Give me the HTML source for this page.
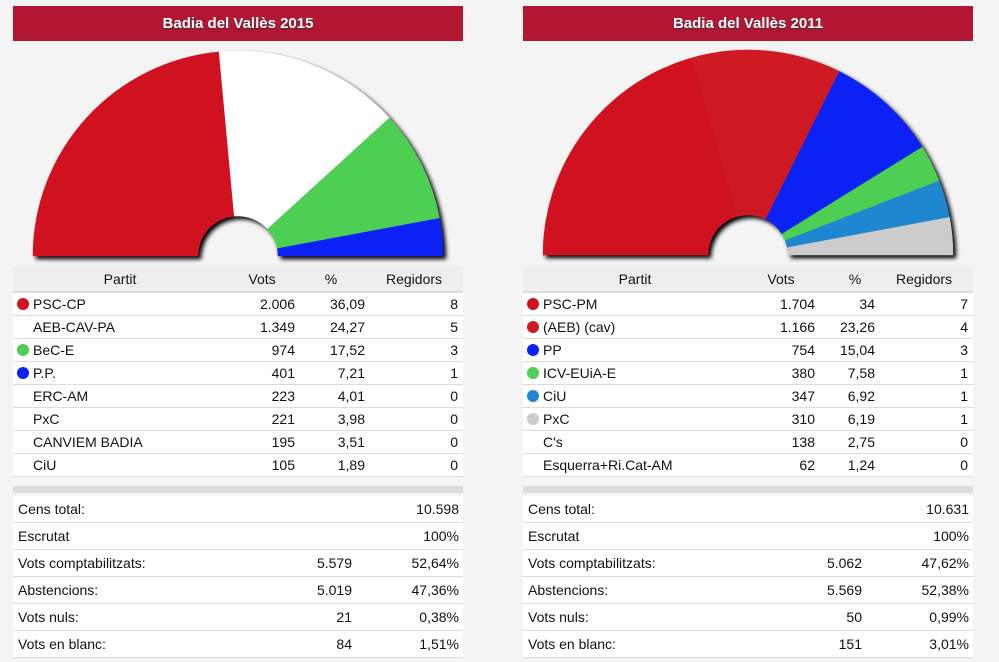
<!DOCTYPE html>
<html><head><meta charset="utf-8"><style>
body{margin:0;width:999px;height:662px;background:#f4f4f4;font-family:"Liberation Sans",Arial,sans-serif;position:relative;overflow:hidden;color:#111}
.p{position:absolute;top:0;width:450px}
.h{position:absolute;top:6px;left:0;width:450px;height:35px;background:#b31631;color:#fff;font-weight:bold;font-size:15px;text-align:center;line-height:35px;text-shadow:0 1px 1px #333}
svg{position:absolute;left:0;top:0}
.t{position:absolute;left:0;top:266px;width:450px;border-collapse:collapse;font-size:14px}
.t td{height:22px;border-bottom:1px solid #ddd;background:#fff;padding:0;white-space:nowrap}
.t tr.hd td{background:#eee;height:25px;border-bottom:2px solid #ddd}
.r{text-align:right}
.dot{display:inline-block;width:12px;height:12px;border-radius:6px;vertical-align:-1px;margin:0 4px 0 4px}
.nd{display:inline-block;width:12px;margin:0 4px}
.bar{position:absolute;left:0;top:486px;width:450px;height:7px;background:#ddd}
.s{position:absolute;left:0;top:496px;width:450px;border-collapse:collapse;font-size:14px}
.s td{height:26px;border-bottom:1px solid #ddd;background:#fff;padding:0}
</style></head><body>

<div class="p" style="left:13px">
<div class="h">Badia del Vallès 2015</div>
<svg width="450" height="265" id="c1"></svg>
<table class="t">
<tr class="hd"><td style="text-align:center;width:214px">Partit</td><td style="text-align:center;width:70px">Vots</td><td style="text-align:center;width:68px">%</td><td style="text-align:center">Regidors</td></tr>
<tr><td><span class="dot" style="background:#d0111f"></span>PSC-CP</td><td class="r" style="padding-right:2px">2.006</td><td class="r" style="padding-right:0">36,09</td><td class="r" style="padding-right:5px">8</td></tr>
<tr><td><span class="nd"></span>AEB-CAV-PA</td><td class="r" style="padding-right:2px">1.349</td><td class="r">24,27</td><td class="r" style="padding-right:5px">5</td></tr>
<tr><td><span class="dot" style="background:#4ccf52"></span>BeC-E</td><td class="r" style="padding-right:2px">974</td><td class="r">17,52</td><td class="r" style="padding-right:5px">3</td></tr>
<tr><td><span class="dot" style="background:#0c21f5"></span>P.P.</td><td class="r" style="padding-right:2px">401</td><td class="r">7,21</td><td class="r" style="padding-right:5px">1</td></tr>
<tr><td><span class="nd"></span>ERC-AM</td><td class="r" style="padding-right:2px">223</td><td class="r">4,01</td><td class="r" style="padding-right:5px">0</td></tr>
<tr><td><span class="nd"></span>PxC</td><td class="r" style="padding-right:2px">221</td><td class="r">3,98</td><td class="r" style="padding-right:5px">0</td></tr>
<tr><td><span class="nd"></span>CANVIEM BADIA</td><td class="r" style="padding-right:2px">195</td><td class="r">3,51</td><td class="r" style="padding-right:5px">0</td></tr>
<tr><td><span class="nd"></span>CiU</td><td class="r" style="padding-right:2px">105</td><td class="r">1,89</td><td class="r" style="padding-right:5px">0</td></tr>
</table>
<div class="bar"></div>
<table class="s">
<tr><td style="padding-left:5px;width:250px">Cens total:</td><td class="r" style="width:84px"></td><td class="r" style="padding-right:4px">10.598</td></tr>
<tr><td style="padding-left:5px">Escrutat</td><td></td><td class="r" style="padding-right:4px">100%</td></tr>
<tr><td style="padding-left:5px">Vots comptabilitzats:</td><td class="r">5.579</td><td class="r" style="padding-right:4px">52,64%</td></tr>
<tr><td style="padding-left:5px">Abstencions:</td><td class="r">5.019</td><td class="r" style="padding-right:4px">47,36%</td></tr>
<tr><td style="padding-left:5px">Vots nuls:</td><td class="r">21</td><td class="r" style="padding-right:4px">0,38%</td></tr>
<tr><td style="padding-left:5px">Vots en blanc:</td><td class="r">84</td><td class="r" style="padding-right:4px">1,51%</td></tr>
</table>
</div>

<div class="p" style="left:523px">
<div class="h">Badia del Vallès 2011</div>
<svg width="450" height="265" id="c2"></svg>
<table class="t">
<tr class="hd"><td style="text-align:center;width:224px">Partit</td><td style="text-align:center;width:68px">Vots</td><td style="text-align:center;width:40px;padding-left:20px">%</td><td style="text-align:center">Regidors</td></tr>
<tr><td><span class="dot" style="background:#d0111f"></span>PSC-PM</td><td class="r">1.704</td><td class="r">34</td><td class="r" style="padding-right:5px">7</td></tr>
<tr><td><span class="dot" style="background:#d01a24"></span>(AEB) (cav)</td><td class="r">1.166</td><td class="r">23,26</td><td class="r" style="padding-right:5px">4</td></tr>
<tr><td><span class="dot" style="background:#0c21f5"></span>PP</td><td class="r">754</td><td class="r">15,04</td><td class="r" style="padding-right:5px">3</td></tr>
<tr><td><span class="dot" style="background:#4ccf52"></span>ICV-EUiA-E</td><td class="r">380</td><td class="r">7,58</td><td class="r" style="padding-right:5px">1</td></tr>
<tr><td><span class="dot" style="background:#1f86d0"></span>CiU</td><td class="r">347</td><td class="r">6,92</td><td class="r" style="padding-right:5px">1</td></tr>
<tr><td><span class="dot" style="background:#cccccc"></span>PxC</td><td class="r">310</td><td class="r">6,19</td><td class="r" style="padding-right:5px">1</td></tr>
<tr><td><span class="nd"></span>C's</td><td class="r">138</td><td class="r">2,75</td><td class="r" style="padding-right:5px">0</td></tr>
<tr><td><span class="nd"></span>Esquerra+Ri.Cat-AM</td><td class="r">62</td><td class="r">1,24</td><td class="r" style="padding-right:5px">0</td></tr>
</table>
<div class="bar"></div>
<table class="s">
<tr><td style="padding-left:5px;width:250px">Cens total:</td><td class="r" style="width:84px"></td><td class="r" style="padding-right:4px">10.631</td></tr>
<tr><td style="padding-left:5px">Escrutat</td><td></td><td class="r" style="padding-right:4px">100%</td></tr>
<tr><td style="padding-left:5px">Vots comptabilitzats:</td><td class="r">5.062</td><td class="r" style="padding-right:4px">47,62%</td></tr>
<tr><td style="padding-left:5px">Abstencions:</td><td class="r">5.569</td><td class="r" style="padding-right:4px">52,38%</td></tr>
<tr><td style="padding-left:5px">Vots nuls:</td><td class="r">50</td><td class="r" style="padding-right:4px">0,99%</td></tr>
<tr><td style="padding-left:5px">Vots en blanc:</td><td class="r">151</td><td class="r" style="padding-right:4px">3,01%</td></tr>
</table>
</div>

<script>
function draw(id,cx,cy,segs){
  var R=205,r=40,tot=0;segs.forEach(function(s){tot+=s[0]});
  var ns="http://www.w3.org/2000/svg",svg=document.getElementById(id);
  var g=document.createElementNS(ns,"g");
  g.setAttribute("style","filter:drop-shadow(3px 3px 2px rgba(0,0,0,1))");
  var a=Math.PI;
  segs.forEach(function(s){
    var b=a-Math.PI*s[0]/tot;
    var p="M"+(cx+R*Math.cos(a))+" "+(cy-R*Math.sin(a))+
      " A"+R+" "+R+" 0 0 1 "+(cx+R*Math.cos(b))+" "+(cy-R*Math.sin(b))+
      " L"+(cx+r*Math.cos(b))+" "+(cy-r*Math.sin(b))+
      " A"+r+" "+r+" 0 0 0 "+(cx+r*Math.cos(a))+" "+(cy-r*Math.sin(a))+"Z";
    var e=document.createElementNS(ns,"path");
    e.setAttribute("d",p);e.setAttribute("fill",s[1]);
    e.setAttribute("stroke",s[1]);e.setAttribute("stroke-width","0.5");
    g.appendChild(e);a=b;
  });
  svg.appendChild(g);
}
draw("c1",225,256,[[8,"#d0111f"],[5,"#ffffff"],[3,"#4ccf52"],[1,"#0c21f5"]]);
draw("c2",225,255,[[7,"#d0111f"],[4,"#cf1a24"],[3,"#0c21f5"],[1,"#4ccf52"],[1,"#1f86d0"],[1,"#cccccc"]]);
</script>
</body></html>
